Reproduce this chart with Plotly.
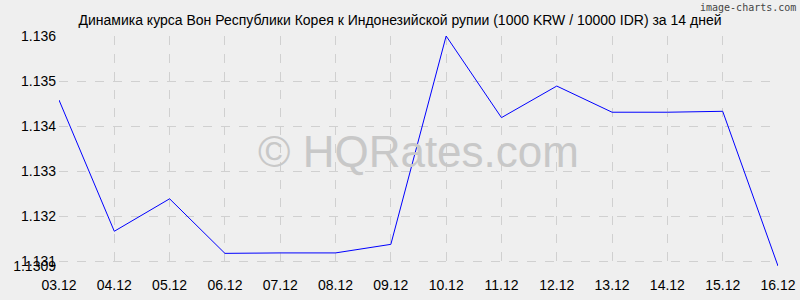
import plotly.graph_objects as go

dates = ["03.12", "04.12", "05.12", "06.12", "07.12", "08.12", "09.12",
         "10.12", "11.12", "12.12", "13.12", "14.12", "15.12", "16.12"]
rates = [1.13458, 1.13167, 1.13239, 1.13118, 1.13119, 1.13119, 1.13138,
         1.13600, 1.13419, 1.13489, 1.13431, 1.13431, 1.13433, 1.13090]
y_ticks = [1.1309, 1.131, 1.132, 1.133, 1.134, 1.135, 1.136]
y_tick_text = ["1.1309", "1.131", "1.132", "1.133", "1.134", "1.135", "1.136"]

title = "Динамика курса Вон Республики Корея к Индонезийской рупии (1000 KRW / 10000 IDR) за 14 дней"

fig = go.Figure()
fig.add_trace(go.Scatter(x=list(range(len(dates))), y=rates, mode="lines",
                         line=dict(color="#0000ff", width=1), hoverinfo="skip"))

grid = dict(showgrid=True, gridcolor="#d0d0d0", griddash="dash", gridwidth=1)
fig.update_layout(
    width=800, height=300,
    margin=dict(l=59, r=22, t=36, b=34, autoexpand=False),
    paper_bgcolor="#efefef", plot_bgcolor="#efefef",
    showlegend=False,
    font=dict(family="Arial, Liberation Sans, sans-serif", color="#000000", size=14),
    title=dict(text=title, x=0.5, xanchor="center", y=0.932, yanchor="middle",
               font=dict(size=14, color="#000000")),
    xaxis=dict(range=[0, len(dates) - 1], tickvals=list(range(len(dates))), ticktext=dates,
               zeroline=False, showline=False, ticks="", ticklabelstandoff=9,
               automargin=False, tickfont=dict(size=14), **grid),
    yaxis=dict(range=[min(y_ticks), max(y_ticks)], tickvals=y_ticks, ticktext=y_tick_text,
               zeroline=False, showline=False, ticks="", ticklabelstandoff=2,
               automargin=False, tickfont=dict(size=14), **grid),
    annotations=[
        dict(text="© HQRates.com", xref="paper", yref="paper", x=0.5, y=0.5,
             showarrow=False, font=dict(size=44, color="#c8c8c8")),
        dict(text="image-charts.com", xref="paper", yref="paper", x=1.0, y=1.0,
             xanchor="right", yanchor="top", yshift=36, xshift=20, showarrow=False,
             font=dict(size=10, color="#444444", family="DejaVu Sans Mono, monospace")),
    ],
)
fig.write_html("out.html")
